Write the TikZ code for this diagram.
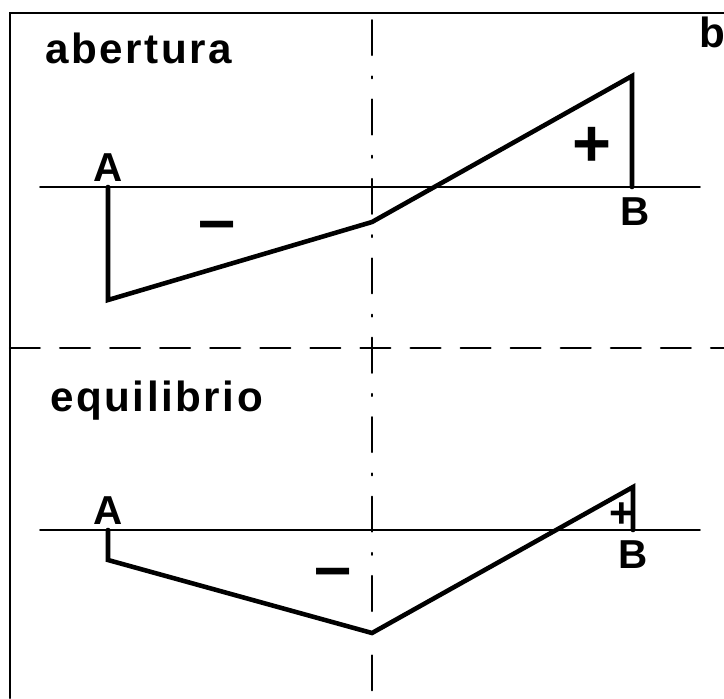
\documentclass[tikz,border=0pt]{standalone}
\usepackage{fontspec}
\setmainfont{Liberation Sans}
\usetikzlibrary{positioning}

\begin{document}
\begin{tikzpicture}[x=0.02cm, y=-0.02cm, line cap=round,
    title/.style={font=\bfseries\fontsize{24}{28}\selectfont\addfontfeatures{LetterSpace=6}, inner sep=0pt, anchor=base west},
    point/.style={font=\bfseries\fontsize{23}{26}\selectfont, inner sep=0pt},
    sign/.style={font=\bfseries\fontsize{38}{40}\selectfont, inner sep=0pt},
    axis/.style={line width=1.1pt},
    moment/.style={line width=2.6pt, line join=miter}]
  \useasboundingbox (0,0) rectangle (724,698);

  % Frame and separators
  \draw[line width=1.3pt] (10,698) -- (10,13) -- (724,13);
  \draw[line width=1.3pt, dash pattern=on 17pt off 11.5pt] (10,348) -- (724,348);
  \draw[line width=1.1pt, dash pattern=on 20pt off 12pt on 1.2pt off 12pt, dash phase=-4pt] (372,13) -- (372,698);

  % Upper panel: abertura
  \node[title] (tabert) at (45,63) {abertura};
  \node[title] (tb) at (699,47) {b};
  \coordinate (axL1) at (40,187);
  \coordinate (axR1) at (700,187);
  \draw[axis] (axL1) -- (axR1);
  \coordinate (A1) at (108,187);
  \coordinate (A1b) at (108,300);
  \coordinate (M1) at (372,222);
  \coordinate (B1t) at (632,76);
  \coordinate (B1) at (632,187);
  \draw[moment] (A1) -- (A1b) -- (M1) -- (B1t) -- (B1);
  \node[point, above=3pt of A1] (lA1) {A};
  \node[point, below=6pt of B1, xshift=2pt] (lB1) {B};
  \node[sign] (neg1) at (217,232) {–};
  \node[sign] (pos1) at (592,147) {+};

  % Lower panel: equilibrio
  \node[title] (tequi) at (50,411) {equilibrio};
  \coordinate (axL2) at (40,530);
  \coordinate (axR2) at (700,530);
  \draw[axis] (axL2) -- (axR2);
  \coordinate (A2) at (108,530);
  \coordinate (A2b) at (108,560);
  \coordinate (M2) at (372,633);
  \coordinate (B2t) at (633,487);
  \coordinate (B2) at (633,530);
  \draw[moment] (A2) -- (A2b) -- (M2) -- (B2t) -- (B2);
  \node[point, above=3pt of A2] (lA2) {A};
  \node[point, below=6pt of B2] (lB2) {B};
  \node[sign] (neg2) at (333,579) {–};
  \node[font=\bfseries\fontsize{24}{26}\selectfont, inner sep=0pt] (pos2) at (622,515) {+};
\end{tikzpicture}
\end{document}
